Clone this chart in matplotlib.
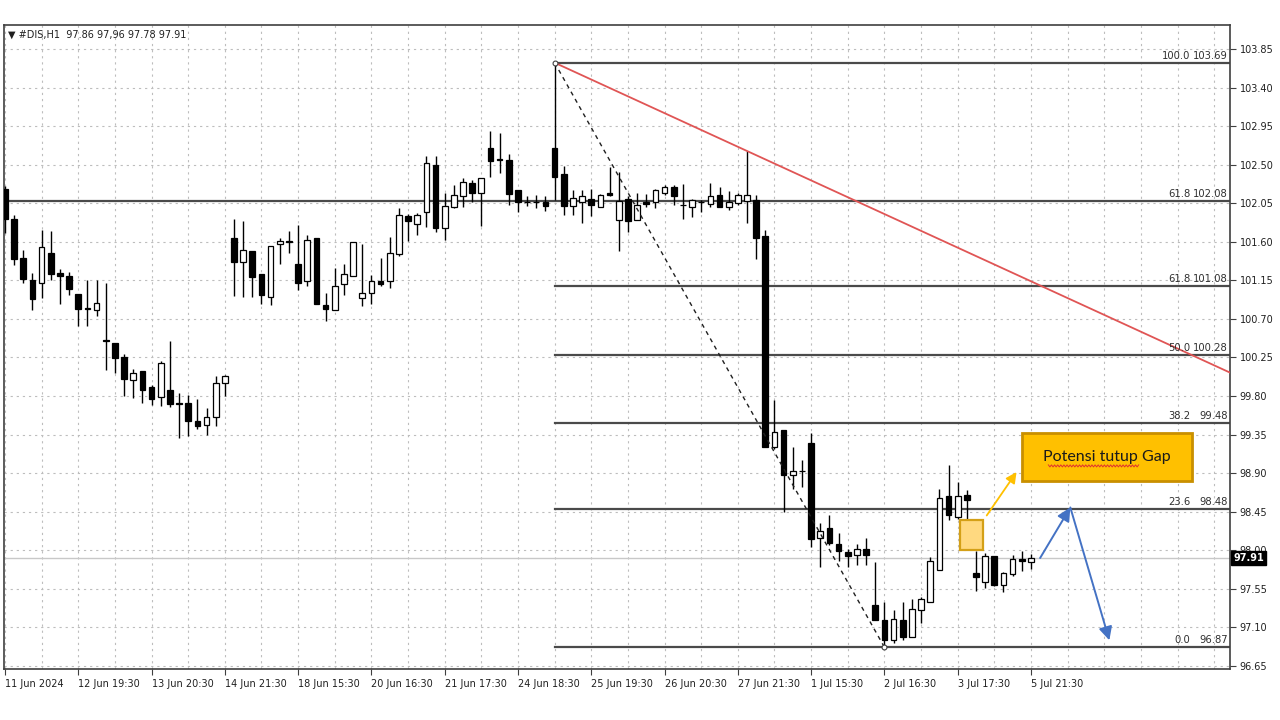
import numpy as np
import matplotlib
matplotlib.use("Agg")
import matplotlib.pyplot as plt
from matplotlib.patches import Rectangle
from matplotlib.transforms import blended_transform_factory

# ---------------- data ----------------
opens = [102.22, 101.87, 101.41, 101.16, 101.12, 101.47, 101.24, 101.20, 100.99, 100.83,
         100.81, 100.45, 100.42, 100.26, 99.99, 100.09, 99.90, 99.79, 99.87, 99.72,
         99.72, 99.51, 99.46, 99.56, 99.95, 101.65, 101.36, 101.49, 101.23, 100.96,
         101.57, 101.60, 101.34, 101.14, 101.64, 100.86, 100.81, 101.11, 101.20, 100.95,
         101.00, 101.14, 101.14, 101.46, 101.90, 101.81, 101.95, 102.50, 101.76, 102.01,
         102.14, 102.29, 102.17, 102.69, 102.57, 102.56, 102.20, 102.07, 102.06, 102.07,
         102.69, 102.39, 102.02, 102.06, 102.10, 102.01, 102.17, 101.86, 102.10, 101.86,
         102.06, 102.07, 102.17, 102.24, 102.03, 102.01, 102.07, 102.04, 102.15, 102.01,
         102.05, 102.08, 102.09, 101.67, 99.20, 99.40, 98.88, 98.93, 99.25, 98.14,
         98.26, 98.07, 97.98, 97.95, 98.01, 97.36, 97.19, 96.95, 97.19, 96.99,
         97.30, 97.40, 97.77, 98.63, 98.39, 98.65, 97.73, 97.63, 97.93, 97.60,
         97.72, 97.90, 97.86]
highs = [102.25, 101.91, 101.51, 101.24, 101.74, 101.73, 101.28, 101.25, 100.99, 101.16,
         101.16, 101.12, 100.42, 100.29, 100.11, 100.09, 99.93, 100.21, 100.44, 99.84,
         99.81, 99.77, 99.66, 100.03, 100.05, 101.87, 101.84, 101.49, 101.23, 101.55,
         101.64, 101.73, 101.80, 101.68, 101.64, 101.00, 101.29, 101.34, 101.60, 101.58,
         101.21, 101.41, 101.66, 101.99, 101.93, 101.94, 102.60, 102.60, 102.17, 102.26,
         102.34, 102.32, 102.35, 102.89, 102.87, 102.62, 102.21, 102.14, 102.15, 102.13,
         103.69, 102.49, 102.21, 102.21, 102.22, 102.16, 102.47, 102.42, 102.14, 102.17,
         102.16, 102.22, 102.26, 102.26, 102.28, 102.10, 102.09, 102.29, 102.24, 102.19,
         102.17, 102.66, 102.15, 101.74, 99.75, 99.40, 99.21, 99.05, 99.37, 98.32,
         98.41, 98.20, 98.02, 98.07, 98.14, 97.86, 97.40, 97.30, 97.40, 97.43,
         97.46, 97.92, 98.71, 99.00, 98.80, 98.70, 97.99, 97.97, 97.93, 97.75,
         97.95, 97.99, 97.96]
lows = [101.70, 101.33, 101.12, 100.80, 100.94, 101.16, 100.88, 100.98, 100.62, 100.62,
        100.73, 100.10, 100.07, 99.80, 99.78, 99.72, 99.70, 99.68, 99.67, 99.31,
        99.33, 99.42, 99.35, 99.45, 99.80, 100.97, 100.96, 100.96, 100.88, 100.86,
        101.34, 101.47, 101.04, 101.08, 100.87, 100.68, 100.81, 100.98, 101.20, 100.85,
        100.87, 101.08, 101.06, 101.43, 101.61, 101.68, 101.77, 101.72, 101.62, 102.00,
        102.01, 102.06, 101.79, 102.36, 102.40, 102.03, 101.95, 102.02, 102.00, 101.96,
        102.09, 101.91, 101.91, 101.82, 101.90, 102.01, 102.14, 101.49, 101.71, 101.86,
        102.01, 101.99, 102.15, 102.03, 101.87, 101.89, 101.95, 102.01, 102.01, 101.97,
        102.03, 101.82, 101.40, 99.20, 99.18, 98.45, 98.72, 98.74, 98.04, 97.81,
        98.06, 97.87, 97.81, 97.83, 97.83, 97.19, 96.87, 96.92, 96.95, 96.99,
        97.15, 97.40, 97.77, 98.35, 98.37, 98.32, 97.53, 97.56, 97.58, 97.51,
        97.70, 97.76, 97.78]
closes = [101.87, 101.40, 101.17, 100.93, 101.54, 101.23, 101.20, 101.05, 100.82, 100.82,
          100.89, 100.44, 100.24, 100.00, 100.07, 99.87, 99.77, 100.19, 99.71, 99.71,
          99.51, 99.45, 99.55, 99.95, 100.03, 101.37, 101.51, 101.19, 100.98, 101.55,
          101.61, 101.60, 101.12, 101.62, 100.87, 100.82, 101.09, 101.22, 101.60, 101.00,
          101.14, 101.11, 101.47, 101.91, 101.84, 101.91, 102.52, 101.76, 102.02, 102.15,
          102.30, 102.17, 102.35, 102.54, 102.56, 102.16, 102.07, 102.06, 102.06, 102.02,
          102.36, 102.02, 102.11, 102.13, 102.03, 102.15, 102.15, 102.08, 101.84, 102.03,
          102.04, 102.21, 102.24, 102.13, 102.03, 102.09, 102.06, 102.14, 102.01, 102.07,
          102.15, 102.15, 101.65, 99.20, 99.38, 98.88, 98.92, 98.92, 98.13, 98.22,
          98.08, 97.99, 97.93, 98.02, 97.95, 97.19, 96.95, 97.20, 96.99, 97.31,
          97.43, 97.87, 98.61, 98.41, 98.63, 98.59, 97.69, 97.93, 97.60, 97.74,
          97.90, 97.87, 97.91]

x_labels = ["11 Jun 2024", "12 Jun 19:30", "13 Jun 20:30", "14 Jun 21:30", "18 Jun 15:30",
            "20 Jun 16:30", "21 Jun 17:30", "24 Jun 18:30", "25 Jun 19:30", "26 Jun 20:30",
            "27 Jun 21:30", "1 Jul 15:30", "2 Jul 16:30", "3 Jul 17:30", "5 Jul 21:30"]
y_ticks = [96.65, 97.10, 97.55, 98.00, 98.45, 98.90, 99.35, 99.80, 100.25, 100.70,
           101.15, 101.60, 102.05, 102.50, 102.95, 103.40, 103.85]

fib_ratios = ["100.0", "61.8", "50.0", "38.2", "23.6", "0.0"]
fib_prices = [103.69, 101.08, 100.28, 99.48, 98.48, 96.87]
extra_fib_ratio = "61.8"
extra_fib_price = 102.08
last_price = 97.91
swing_high_bar, swing_low_bar = 60, 96
trend_bar2 = 81
title_text = "\u25BC #DIS,H1  97.86 97,96 97.78 97.91"
note_text = "Potensi tutup Gap"

# ---------------- figure ----------------
plt.rcParams['font.family'] = ['DejaVu Sans']
fig = plt.figure(figsize=(12.8, 7.2), dpi=100)
ax = fig.add_axes([4/1280, 51/720, 1226/1280, 644/720])
n = len(opens)
xs = np.arange(n)
ax.set_xlim(-0.11, 133.73)
ax.set_ylim(96.615, 104.13)

# grid
for gx in range(0, 134, 4):
    ax.axvline(gx, color='#bdbdbd', lw=0.8, ls=(0, (2, 3.5)), zorder=0)
for gy in y_ticks:
    ax.axhline(gy, color='#bdbdbd', lw=0.8, ls=(0, (2, 3.5)), zorder=0)

# last price line
ax.axhline(last_price, color='#c8c8c8', lw=1.0, zorder=1)

# candles
o = np.array(opens); h = np.array(highs); l = np.array(lows); c = np.array(closes)
ax.vlines(xs, l, h, color='black', lw=1.0, zorder=3)
bottoms = np.minimum(o, c)
heights = np.maximum(np.abs(c - o), 0.004)
cols = np.where(c > o, 'white', 'black')
ax.bar(xs, heights, bottom=bottoms, width=0.62, color=cols, edgecolor='black',
       linewidth=0.9, zorder=4)

# fib lines
trans = blended_transform_factory(ax.transAxes, ax.transData)
ax.axhline(extra_fib_price, color='#4a4a4a', lw=1.6, zorder=2)
for r, p in zip(fib_ratios, fib_prices):
    ax.plot([swing_high_bar, 140], [p, p], color='#4a4a4a', lw=1.6, zorder=2)
for r, p in [(extra_fib_ratio, extra_fib_price)] + list(zip(fib_ratios, fib_prices)):
    ax.text(0.9674, p + 0.025, r, transform=trans, ha='right', va='bottom',
            fontsize=7.2, color='#303030', zorder=6)
    ax.text(0.9984, p + 0.025, f"{p:.2f}", transform=trans, ha='right', va='bottom',
            fontsize=7.2, color='#303030', zorder=6)

# red trend line
hi_bar_price = highs[swing_high_bar]
slope = (highs[trend_bar2] - hi_bar_price) / (trend_bar2 - swing_high_bar)
ax.plot([swing_high_bar, 140], [hi_bar_price, hi_bar_price + slope * (140 - swing_high_bar)],
        color='#e05555', lw=1.3, zorder=5)

# dashed fib anchor line
ax.plot([swing_high_bar, swing_low_bar], [fib_prices[0], fib_prices[-1]],
        color='#202020', lw=1.0, ls=(0, (3, 3)), zorder=5)
ax.plot([swing_high_bar, swing_low_bar], [fib_prices[0], fib_prices[-1]], ls='none',
        marker='o', ms=3.5, mfc='white', mec='#404040', mew=0.8, zorder=6)

# gap box
ax.add_patch(Rectangle((104.3, 98.004), 2.5, 0.35, facecolor='#ffd980',
                       edgecolor='#d4a017', lw=1.6, zorder=7))
ax.annotate('', xy=(110.6, 98.94), xytext=(107.0, 98.38),
            arrowprops=dict(arrowstyle='-|>', color='#ffc000', lw=1.3,
                            mutation_scale=16), zorder=7)

# note box
ax.add_patch(Rectangle((111.0, 98.813), 18.55, 0.553, facecolor='#ffc000',
                       edgecolor='#c98f00', lw=2.0, zorder=7))
ax.text(120.3, 99.09, note_text, ha='center', va='center', fontsize=11.5,
        family=['Lato', 'DejaVu Sans'], color='#1a1a1a', zorder=8)
zx = np.arange(113.9, 123.9, 0.17)
zy = 98.985 + 0.012 * np.where(np.arange(len(zx)) % 2 == 0, 1, -1)
ax.plot(zx, zy, color='#e03030', lw=0.7, zorder=8)

# blue arrows
ax.annotate('', xy=(116.3, 98.50), xytext=(113.0, 97.91),
            arrowprops=dict(arrowstyle='-|>', color='#4472c4', lw=1.4,
                            mutation_scale=20, shrinkA=0, shrinkB=0), zorder=7)
ax.annotate('', xy=(120.56, 96.95), xytext=(116.3, 98.50),
            arrowprops=dict(arrowstyle='-|>', color='#4472c4', lw=1.4,
                            mutation_scale=20, shrinkA=0, shrinkB=0), zorder=7)

# axes styling
for s in ax.spines.values():
    s.set_color('#404040')
    s.set_linewidth(1.2)
ax.yaxis.tick_right()
ax.set_yticks(y_ticks)
ax.set_yticklabels([f"{v:.2f}" for v in y_ticks])
ax.tick_params(axis='y', length=4, width=0.8, color='#404040', labelsize=7,
               labelcolor='#202020', pad=3)
ax.set_xticks(np.arange(0, n, 8))
ax.set_xticklabels(x_labels)
for t in ax.get_xticklabels():
    t.set_horizontalalignment('left')
ax.tick_params(axis='x', length=4, width=0.8, color='#404040', labelsize=7,
               labelcolor='#202020', pad=3)

# last price tag
ax.text(1.0025, last_price, f"{last_price:.2f}", transform=trans, ha='left', va='center',
        fontsize=7, color='white', fontweight='bold',
        bbox=dict(boxstyle='square,pad=0.2', facecolor='black', edgecolor='black'),
        zorder=10, clip_on=False)

fig.text(8/1280, 1 - 35/720, title_text, fontsize=7, color='#202020', va='center')

fig.savefig('out.png', dpi=100, facecolor='white')
